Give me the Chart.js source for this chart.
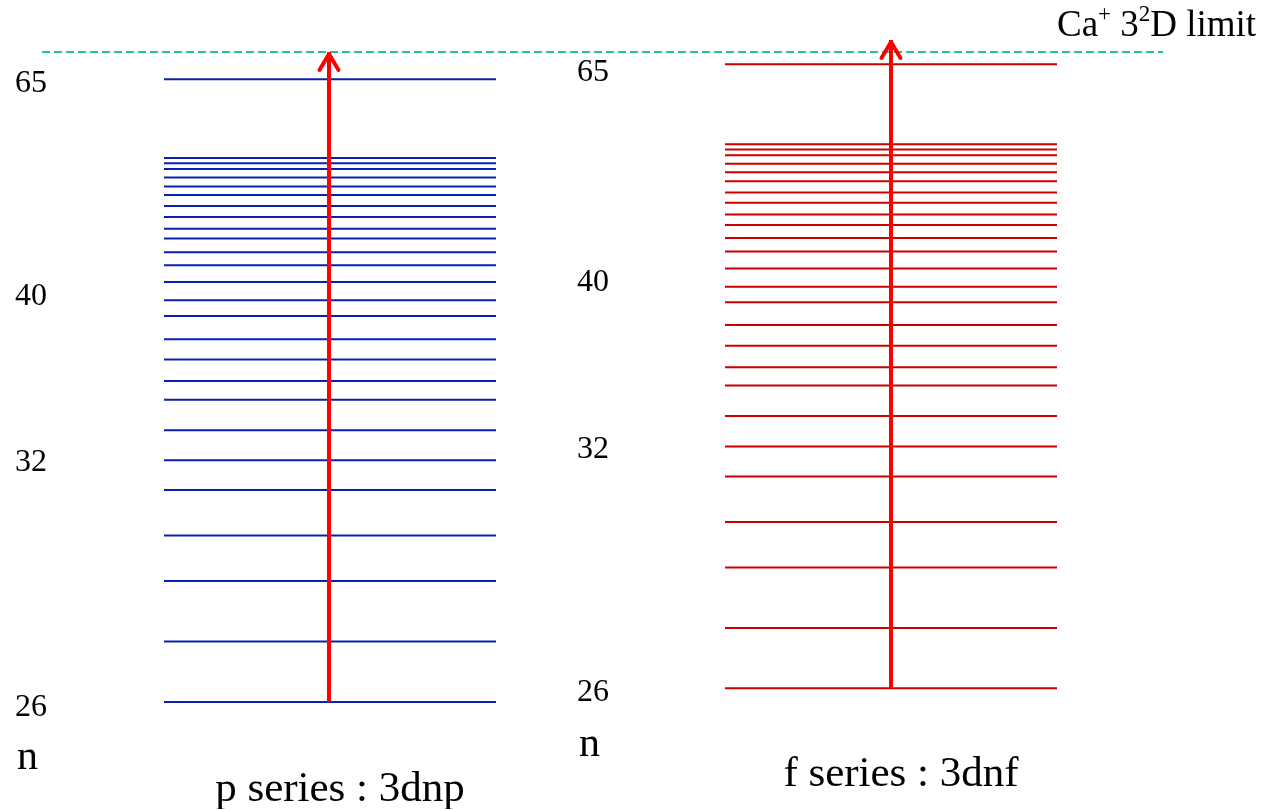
<!DOCTYPE html>
<html>
<head>
<meta charset="utf-8">
<script src="https://cdn.jsdelivr.net/npm/chart.js@4"></script>
<style>
  html, body { margin: 0; padding: 0; background: #ffffff; }
  #wrap { width: 1281px; height: 809px; position: relative; }
</style>
</head>
<body>
<div id="wrap"><canvas id="c"></canvas></div>
<script>
// ---------------- DATA (energy relative to the Ca+ 3^2D limit, arbitrary units) ----------------
const limitEnergy = 0;
const pSeriesLevels = [-4.2, -16.3, -17.1, -18.0, -19.3, -20.7, -22.0, -23.7, -25.4, -27.2, -28.7, -30.8, -32.8, -35.4, -38.2, -40.6, -44.2, -47.3, -50.6, -53.5, -58.2, -62.8, -67.4, -74.4, -81.4, -90.7, -100.0];
const fSeriesLevels = [-1.9, -14.2, -15.0, -15.9, -17.2, -18.5, -19.9, -21.6, -23.2, -25.0, -26.6, -28.6, -30.7, -33.3, -36.1, -38.5, -42.0, -45.2, -48.5, -51.3, -56.0, -60.7, -65.3, -72.3, -79.3, -88.6, -97.9];
const pArrowEnergy = [-100.0, 0.0];
const fArrowEnergy = [-97.9, 1.85];
const nLabels = ['65', '40', '32', '26'];
const pLabelEnergy = [-4.9, -37.7, -63.1, -100.8];
const fLabelEnergy = [-3.1, -35.5, -61.1, -98.6];
const nAxisLabel = 'n';
const pNEnergy = -108.6;
const fNEnergy = -106.6;
const pTitle = 'p series : 3dnp';
const fTitle = 'f series : 3dnf';
const pTitleEnergy = -113.5;
const fTitleEnergy = -111.2;
const limitLabelEnergy = 3.9;

// ---------------- LAYOUT (horizontal placement, styles) ----------------
const L = {
  xMax: 1281, yMin: -116.46, yMax: 8.0,
  pX0: 164, pX1: 496, pArrowX: 329,
  fX0: 725, fX1: 1057, fArrowX: 891,
  limX0: 42, limX1: 1163,
  pLabelX: 15, fLabelX: 577,
  pTitleX: 340, fTitleX: 901,
  limitLabelX: 1057
};
const FONT = '"Liberation Serif", "Times New Roman", serif';

function levelSegments(levels, x0, x1) {
  const pts = [];
  levels.forEach(e => {
    pts.push({x: x0, y: e});
    pts.push({x: x1, y: e});
    pts.push({x: (x0 + x1) / 2, y: null});
  });
  return pts;
}

const datasets = [
  { label: 'p arrow', data: [{x: L.pArrowX, y: pArrowEnergy[0]}, {x: L.pArrowX, y: pArrowEnergy[1]}],
    borderColor: '#ff0000', borderWidth: 4, pointRadius: 0, showLine: true, order: 0 },
  { label: 'f arrow', data: [{x: L.fArrowX, y: fArrowEnergy[0]}, {x: L.fArrowX, y: fArrowEnergy[1]}],
    borderColor: '#ff0000', borderWidth: 4, pointRadius: 0, showLine: true, order: 0 },
  { label: 'limit', data: [{x: L.limX0, y: limitEnergy}, {x: L.limX1, y: limitEnergy}],
    borderColor: '#1fc49c', borderWidth: 2, borderDash: [8, 4], pointRadius: 0, showLine: true, order: 1 },
  { label: 'p levels', data: levelSegments(pSeriesLevels, L.pX0, L.pX1),
    borderColor: '#0722b2', borderWidth: 2, pointRadius: 0, showLine: true, spanGaps: false, order: 2 },
  { label: 'f levels', data: levelSegments(fSeriesLevels, L.fX0, L.fX1),
    borderColor: '#cc0000', borderWidth: 2, pointRadius: 0, showLine: true, spanGaps: false, order: 2 }
];

function drawRich(ctx, x, y, parts, size) {
  let cx = x;
  parts.forEach(p => {
    const s = p.sup ? size * 0.62 : size;
    ctx.font = s + 'px ' + FONT;
    const dy = p.sup ? -size * 0.32 : 0;
    ctx.fillText(p.t, cx, y + dy);
    cx += ctx.measureText(p.t).width;
  });
}

const annotations = {
  id: 'annotations',
  afterDatasetsDraw(chart) {
    const ctx = chart.ctx;
    const xs = chart.scales.x, ys = chart.scales.y;
    ctx.save();
    // arrow heads
    ctx.strokeStyle = '#ff0000';
    ctx.lineWidth = 4;
    ctx.lineCap = 'round';
    ctx.lineJoin = 'round';
    [[L.pArrowX, pArrowEnergy[1]], [L.fArrowX, fArrowEnergy[1]]].forEach(([ax, ay]) => {
      const px = xs.getPixelForValue(ax), py = ys.getPixelForValue(ay);
      ctx.beginPath();
      ctx.moveTo(px - 9.5, py + 18);
      ctx.lineTo(px, py + 2);
      ctx.lineTo(px + 9.5, py + 18);
      ctx.stroke();
    });
    // n labels
    ctx.fillStyle = '#000000';
    ctx.textAlign = 'left';
    ctx.textBaseline = 'middle';
    ctx.font = '32px ' + FONT;
    nLabels.forEach((t, i) => {
      ctx.fillText(t, xs.getPixelForValue(L.pLabelX), ys.getPixelForValue(pLabelEnergy[i]));
      ctx.fillText(t, xs.getPixelForValue(L.fLabelX), ys.getPixelForValue(fLabelEnergy[i]));
    });
    ctx.font = '42px ' + FONT;
    ctx.fillText(nAxisLabel, xs.getPixelForValue(L.pLabelX + 2), ys.getPixelForValue(pNEnergy));
    ctx.fillText(nAxisLabel, xs.getPixelForValue(L.fLabelX + 2), ys.getPixelForValue(fNEnergy));
    // titles
    ctx.textAlign = 'center';
    ctx.font = '43px ' + FONT;
    ctx.fillText(pTitle, xs.getPixelForValue(L.pTitleX), ys.getPixelForValue(pTitleEnergy));
    ctx.fillText(fTitle, xs.getPixelForValue(L.fTitleX), ys.getPixelForValue(fTitleEnergy));
    // limit label
    ctx.textAlign = 'left';
    drawRich(ctx, xs.getPixelForValue(L.limitLabelX), ys.getPixelForValue(limitLabelEnergy),
      [{t: 'Ca'}, {t: '+', sup: true}, {t: ' 3'}, {t: '2', sup: true}, {t: 'D limit'}], 37);
    ctx.restore();
  }
};

new Chart(document.getElementById('c'), {
  type: 'scatter',
  data: { datasets },
  options: {
    responsive: true,
    maintainAspectRatio: false,
    animation: false,
    layout: { padding: 0 },
    plugins: { legend: { display: false }, tooltip: { enabled: false } },
    scales: {
      x: { type: 'linear', min: 0, max: L.xMax, display: false },
      y: { type: 'linear', min: L.yMin, max: L.yMax, display: false }
    }
  },
  plugins: [annotations]
});
</script>
</body>
</html>
